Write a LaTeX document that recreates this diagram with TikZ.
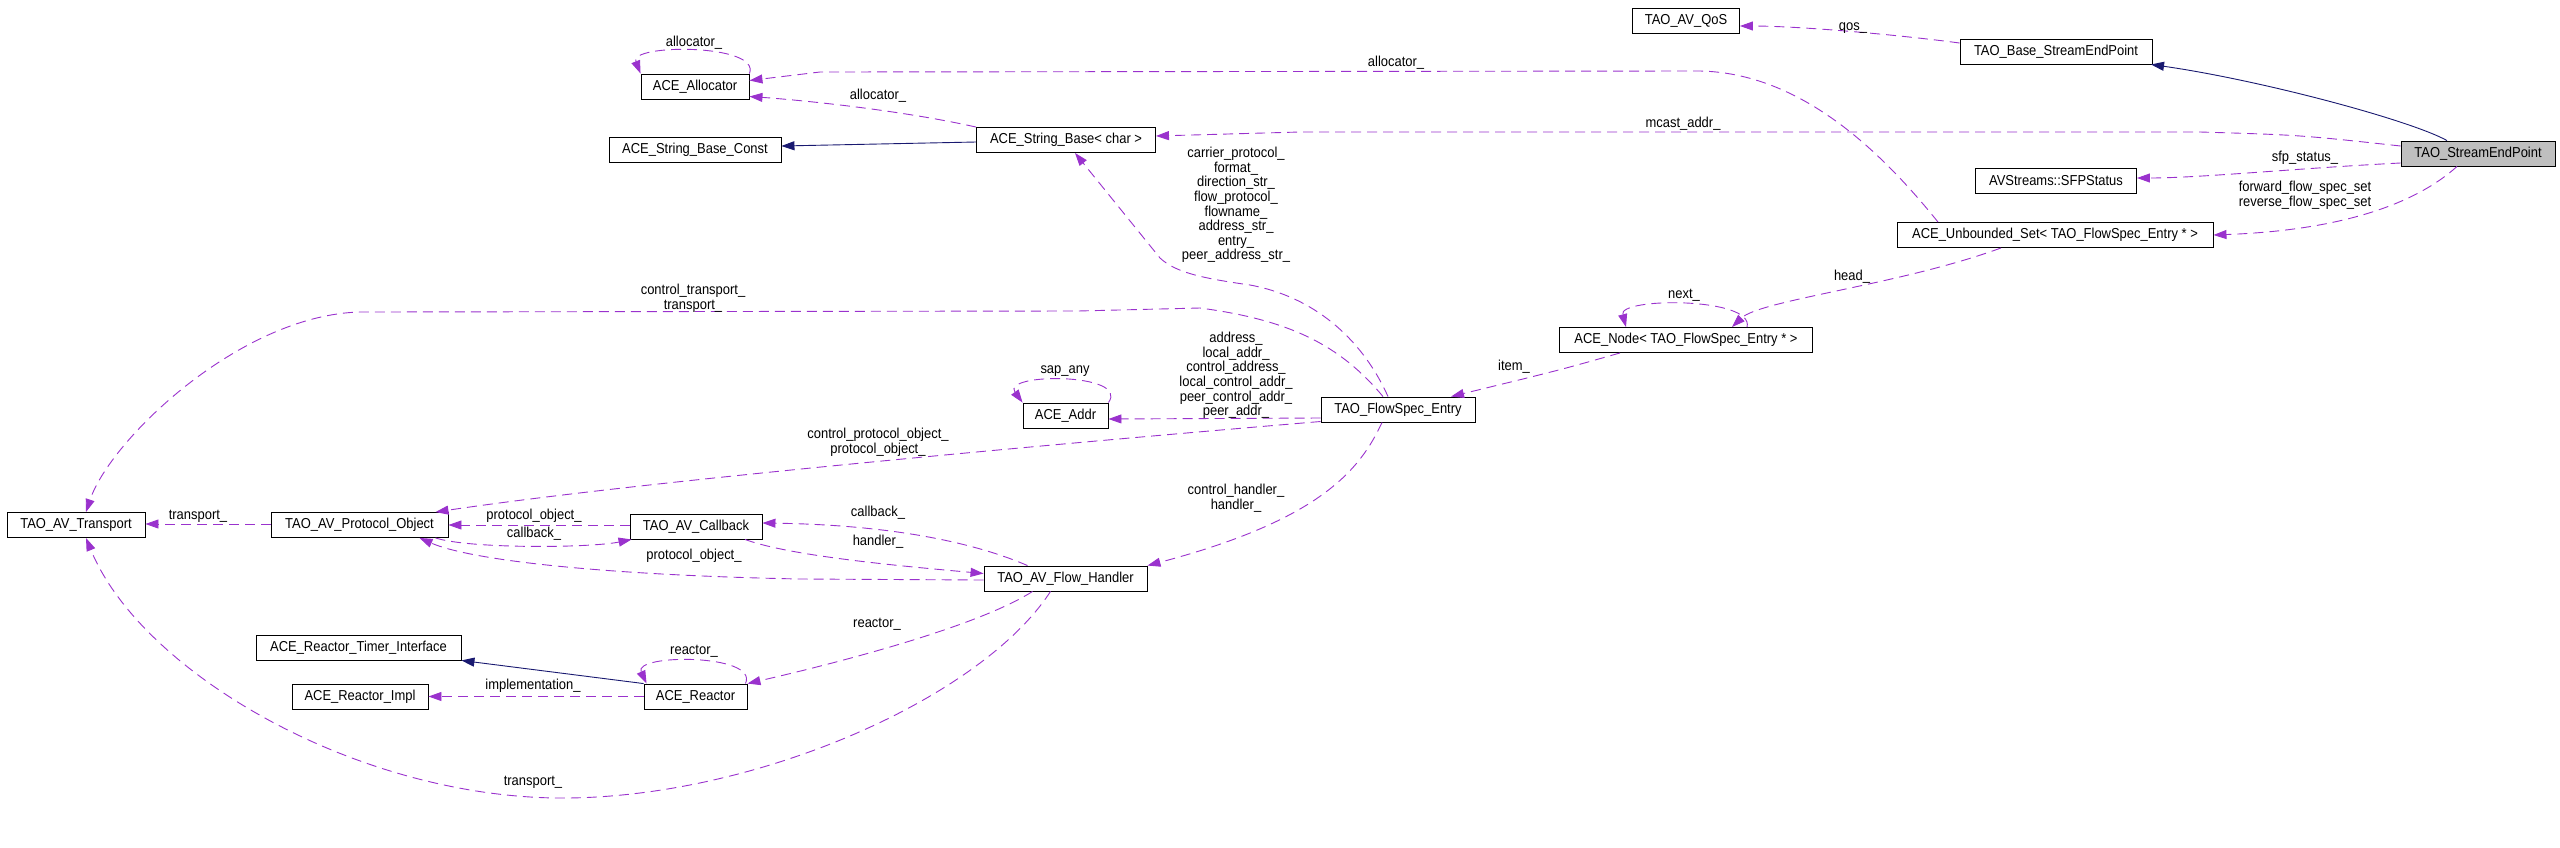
\documentclass[tikz,border=0pt]{standalone}
\usepackage{fontspec}
\setmainfont{Liberation Sans}[FakeStretch=0.9]
\usetikzlibrary{arrows.meta}
\definecolor{edgepurple}{HTML}{9A32CD}
\definecolor{basenavy}{HTML}{191970}
\definecolor{rootgray}{HTML}{BFBFBF}
\begin{document}
\begin{tikzpicture}[x=1pt, y=-1pt, line width=0.9pt, font=\fontsize{14.4}{14.6}\selectfont,
  class node/.style={draw=black, fill=white, minimum height=25pt, inner sep=2pt},
  root node/.style={class node, fill=rootgray},
  use edge/.style={draw=edgepurple, dash pattern=on 10pt off 6pt, -{Triangle[length=13pt,width=9pt]}},
  base edge/.style={draw=basenavy, -{Triangle[length=13pt,width=9pt]}},
  edge label/.style={inner sep=0pt, align=center}]
\useasboundingbox (0,0) rectangle (2560,847);
\begin{scope}
\node[class node, minimum width=107pt] (qos) at (1686,21) {TAO\_AV\_QoS};
\node[class node, minimum width=192pt] (base) at (2056,51.5) {TAO\_Base\_StreamEndPoint};
\node[root node, minimum width=154pt] (sep) at (2478,153.5) {TAO\_StreamEndPoint};
\node[class node, minimum width=108pt] (alloc) at (695,86.5) {ACE\_Allocator};
\node[class node, minimum width=172pt] (strconst) at (695,149.5) {ACE\_String\_Base\_Const};
\node[class node, minimum width=179pt] (strbase) at (1066,140) {ACE\_String\_Base< char >};
\node[class node, minimum width=161pt] (sfp) at (2056,181) {AVStreams::SFPStatus};
\node[class node, minimum width=316pt] (uset) at (2055,235) {ACE\_Unbounded\_Set< TAO\_FlowSpec\_Entry * >};
\node[class node, minimum width=253pt] (acenode) at (1686,340) {ACE\_Node< TAO\_FlowSpec\_Entry * >};
\node[class node, minimum width=154pt] (fse) at (1398,409.5) {TAO\_FlowSpec\_Entry};
\node[class node, minimum width=85pt] (addr) at (1065.5,415.5) {ACE\_Addr};
\node[class node, minimum width=138pt] (trans) at (76,525) {TAO\_AV\_Transport};
\node[class node, minimum width=177pt] (proto) at (359.5,525) {TAO\_AV\_Protocol\_Object};
\node[class node, minimum width=132pt] (cb) at (696,526.5) {TAO\_AV\_Callback};
\node[class node, minimum width=163pt] (fh) at (1065.5,578.5) {TAO\_AV\_Flow\_Handler};
\node[class node, minimum width=205pt] (timer) at (358.5,647.5) {ACE\_Reactor\_Timer\_Interface};
\node[class node, minimum width=136pt] (impl) at (360,696.5) {ACE\_Reactor\_Impl};
\node[class node, minimum width=103pt] (reactor) at (695.5,696.5) {ACE\_Reactor};
\end{scope}
\begin{scope}
% base classes
\draw[base edge] ([xshift=-31pt]sep.north) .. controls (2410,120) and (2260,80) .. ([xshift=95pt]base.south);
\draw[base edge] ([yshift=-2pt]strbase.west) -- ([yshift=3.5pt]strconst.east);
\draw[base edge] (reactor.north west) -- (timer.south east);
% members
\draw[use edge] ([yshift=8.5pt]base.west) .. controls (1900,35) and (1800,26) .. ([yshift=-5pt]qos.east)
  node[edge label] (lqos) at (1853,28) {qos\_};
\draw[use edge] ([xshift=-117pt]uset.north) .. controls (1880,150) and (1800,73) .. (1700,71) -- (820,72) -- ([yshift=6pt]alloc.east)
  node[edge label] (lalloca) at (1396,63) {allocator\_};
\draw[use edge] (strbase.north west) .. controls (900,110) and (800,100) .. ([yshift=-10pt]alloc.east)
  node[edge label] (lallocb) at (878,96) {allocator\_};
\draw[use edge] (alloc.north east) .. controls +(12,-30) and +(-12,-30) .. (alloc.north west)
  node[edge label] (lallocc) at (694,43) {allocator\_};
\draw[use edge] ([yshift=7.5pt]sep.west) .. controls (2300,135) .. (2200,132) -- (1300,132) -- ([yshift=4pt]strbase.east)
  node[edge label] (lmcast) at (1683,124) {mcast\_addr\_};
\draw[use edge] ([yshift=-9.5pt]sep.west) .. controls (2300,168) and (2200,178) .. ([yshift=3pt]sfp.east)
  node[edge label] (lsfp) at (2305,158) {sfp\_status\_};
\draw[use edge] ([xshift=-21pt]sep.south) .. controls (2420,200) and (2350,230) .. (uset.east)
  node[edge label] (lflowset) at (2305,195.5) {forward\_flow\_spec\_set\\reverse\_flow\_spec\_set};
\draw[use edge] ([xshift=-54pt]uset.south) .. controls (1900,285) and (1760,300) .. ([xshift=46pt]acenode.north)
  node[edge label] (lhead) at (1852,277) {head\_};
\draw[use edge] ([xshift=61pt]acenode.north) .. controls +(8,-30) and +(-8,-30) .. ([xshift=-60pt]acenode.north)
  node[edge label] (lnext) at (1684,295) {next\_};
\draw[use edge] ([xshift=-66pt]acenode.south) .. controls (1560,370) .. ([xshift=53pt]fse.north)
  node[edge label] (litem) at (1514,367) {item\_};
\draw[use edge] ([xshift=-10pt]fse.north) .. controls (1365,345) and (1320,298) .. (1250,285) .. controls (1200,278) and (1175,272) .. (1160,258) -- ([xshift=9pt]strbase.south)
  node[edge label] (lstrings) at (1236,205) {carrier\_protocol\_\\format\_\\direction\_str\_\\flow\_protocol\_\\flowname\_\\address\_str\_\\entry\_\\peer\_address\_str\_};
\draw[use edge] ([xshift=-15pt]fse.north) .. controls (1340,345) and (1290,320) .. (1200,308) -- (1078,311) -- (360,312) .. controls (240,315) and (110,440) .. ([xshift=10pt]trans.north)
  node[edge label] (lctrans) at (693,298.5) {control\_transport\_\\transport\_};
\draw[use edge] ([yshift=-8.5pt]fse.west) -- ([yshift=-3.5pt]addr.east)
  node[edge label] (laddr) at (1236,375.5) {address\_\\local\_addr\_\\control\_address\_\\local\_control\_addr\_\\peer\_control\_addr\_\\peer\_addr\_};
\draw[use edge] (addr.north east) .. controls +(22,-30) and +(-22,-30) .. (addr.north west)
  node[edge label] (lsap) at (1065,371) {sap\_any};
\draw[use edge] ([yshift=-12pt]fse.west) .. controls (1100,440) and (650,480) .. ([xshift=76pt]proto.north)
  node[edge label] (lcproto) at (878,442.5) {control\_protocol\_object\_\\protocol\_object\_};
\draw[use edge] ([yshift=1pt]proto.west) -- ([yshift=1pt]trans.east)
  node[edge label] (ltransa) at (198,516) {transport\_};
\draw[use edge] ([yshift=1.5pt]cb.west) -- (proto.east)
  node[edge label] (lprotoa) at (534,516) {protocol\_object\_};
\draw[use edge] ([xshift=76pt]proto.south) .. controls (470,549) and (590,548) .. ([xshift=2pt]cb.south west)
  node[edge label] (lcba) at (534,534) {callback\_};
\draw[use edge] ([yshift=-1.5pt]fh.west) -- (800,579) .. controls (600,575) and (470,560) .. ([xshift=60pt]proto.south)
  node[edge label] (lprotob) at (694,556) {protocol\_object\_};
\draw[use edge] ([xshift=-38pt]fh.north) .. controls (980,545) and (900,525) .. ([yshift=3.5pt]cb.east)
  node[edge label] (lcbb) at (878,513) {callback\_};
\draw[use edge] ([xshift=49pt]cb.south) .. controls (790,556) and (900,566) .. ([yshift=5pt]fh.west)
  node[edge label] (lhandler) at (878,542) {handler\_};
\draw[use edge] ([xshift=-16pt]fse.south) .. controls (1360,470) and (1320,520) .. (fh.north east)
  node[edge label] (lchandler) at (1236,498.5) {control\_handler\_\\handler\_};
\draw[use edge] ([xshift=-33pt]fh.south) .. controls (980,625) and (850,660) .. (reactor.north east)
  node[edge label] (lreactora) at (877,624) {reactor\_};
\draw[use edge] ([xshift=-2pt]reactor.north east) .. controls +(14,-30) and +(-14,-30) .. ([xshift=3pt]reactor.north west)
  node[edge label] (lreactorb) at (694,651) {reactor\_};
\draw[use edge] (reactor.west) -- (impl.east)
  node[edge label] (limpl) at (533,686) {implementation\_};
\draw[use edge] ([xshift=-15pt]fh.south) .. controls (980,700) and (750,800) .. (556,798) .. controls (350,795) and (140,670) .. ([xshift=10pt]trans.south)
  node[edge label] (ltransb) at (533,782) {transport\_};
\end{scope}
\end{tikzpicture}
\end{document}
